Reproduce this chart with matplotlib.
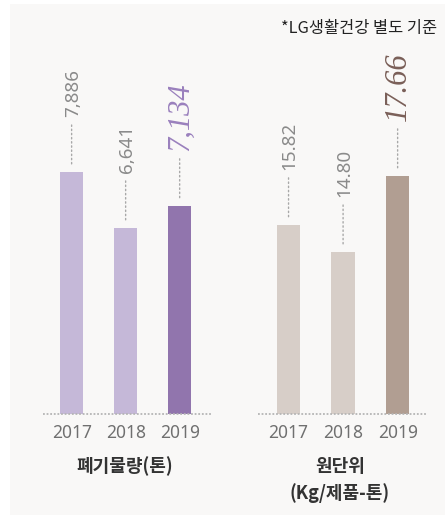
import matplotlib.pyplot as plt
from matplotlib.patches import Rectangle

plt.rcParams['font.family'] = ['Noto Sans', 'Noto Sans CJK KR', 'DejaVu Sans']
KR = ['Noto Sans CJK KR', 'DejaVu Sans']

years = ['2017', '2018', '2019']
waste = [7886, 6641, 7134]
waste_labels = ['7,886', '6,641', '7,134']
unit = [15.82, 14.80, 17.66]
unit_labels = ['15.82', '14.80', '17.66']

waste_colors = ['#c5b8d8', '#c5b8d8', '#9175ad']
unit_colors = ['#d7cec8', '#d7cec8', '#b19e92']
waste_hi = '#9a80bd'
unit_hi = '#7a5f58'

fig = plt.figure(figsize=(4.45, 5.16), dpi=100)
fig.patch.set_facecolor('white')

# light panel behind everything
fig.patches.append(Rectangle((10 / 445, 1 / 516), 435 / 445, 511 / 516,
                             transform=fig.transFigure, facecolor='#f9f8f7',
                             edgecolor='none', zorder=-5))

H = 516
bottom = (H - 414) / H
height = (414 - 20) / H


def draw_group(left_px, xlim, vals, labels, colors, hi_color, ymin, ymax):
    ax = fig.add_axes([left_px / 445, bottom, 168 / 445, height])
    ax.set_facecolor('none')
    ax.set_zorder(2)
    x = range(len(vals))
    ax.bar(x, vals, width=0.43, color=colors, zorder=2)
    ax.set_xlim(*xlim)
    ax.set_ylim(ymin, ymax)
    ax.axhline(ymin, color='#b5b5b5', lw=1.3, ls=(0, (1, 1)), zorder=3,
               clip_on=False)
    for i, (v, lab) in enumerate(zip(vals, labels)):
        ax.annotate('', xy=(i, v), xytext=(0, 47), textcoords='offset pixels',
                    arrowprops=dict(arrowstyle='-', color='#a8a8a8', lw=1,
                                    ls=(0, (1, 2)), shrinkA=0, shrinkB=5.5))
        if i == len(vals) - 1:
            ax.annotate(lab, xy=(i, v), xytext=(1, 55), textcoords='offset pixels',
                        rotation=90, ha='center', va='bottom', fontsize=22,
                        family='Liberation Serif', style='italic', color=hi_color)
        else:
            ax.annotate(lab, xy=(i, v), xytext=(1, 55), textcoords='offset pixels',
                        rotation=90, ha='center', va='bottom', fontsize=13.5,
                        fontweight='light', color='#8a8a8a')
    ax.set_xticks(list(x))
    ax.set_xticklabels(years, fontsize=12.5, color='#707070')
    ax.tick_params(axis='x', length=0, pad=7)
    ax.set_yticks([])
    for s in ax.spines.values():
        s.set_visible(False)
    return ax


draw_group(43, (-0.53, 2.58), waste, waste_labels, waste_colors, waste_hi,
           2500, 11269)
draw_group(258, (-0.56, 2.52), unit, unit_labels, unit_colors, unit_hi,
           8.71, 23.52)

fig.text(437 / 445, 1 - 28 / H, '*LG생활건강 별도 기준', ha='right', va='center',
         fontsize=11.8, color='#222222', family=KR)
fig.text(125 / 445, 1 - 466 / H, '폐기물량(톤)', ha='center', va='center',
         fontsize=13, fontweight='bold', color='#333333', family=KR)
fig.text(340 / 445, 1 - 466 / H, '원단위', ha='center', va='center',
         fontsize=13, fontweight='bold', color='#333333', family=KR)
fig.text(340 / 445, 1 - 493 / H, '(Kg/제품-톤)', ha='center', va='center',
         fontsize=13, fontweight='bold', color='#333333', family=KR)

fig.savefig('out.png', dpi=100, facecolor=fig.get_facecolor())
